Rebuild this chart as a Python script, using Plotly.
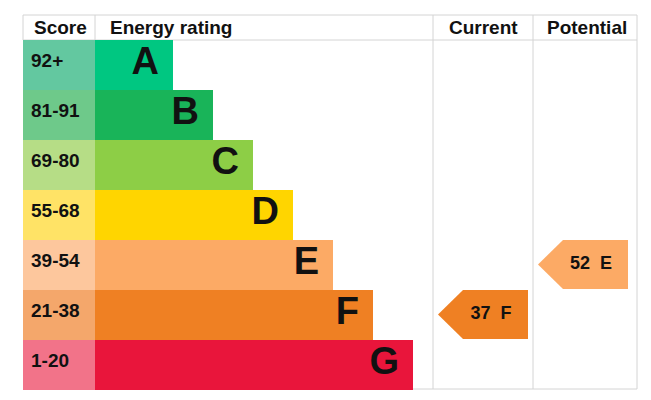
import plotly.graph_objects as go

# EPC bands, top (best) to bottom (worst)
bands = ["A", "B", "C", "D", "E", "F", "G"]
score_ranges = ["92+", "81-91", "69-80", "55-68", "39-54", "21-38", "1-20"]
band_min_score = [92, 81, 69, 55, 39, 21, 1]
bar_lengths = [78, 118, 158, 198, 238, 278, 318]
bar_colors = ["#00c781", "#19b459", "#8dce46", "#ffd500", "#fcaa65", "#ef8023", "#e9153b"]
score_colors = ["#63c8a0", "#6ec98a", "#b6dd86", "#ffe366", "#fdc79d", "#f4a76b", "#f27389"]

headers = ["Score", "Energy rating", "Current", "Potential"]
current_score = 37
potential_score = 52

FONT = "Liberation Sans, Arial, sans-serif"
GRID = "#d4d4d4"

# table geometry (pixel-like axis units)
TOP, HEAD_H, ROW_H = 15, 25, 50
LEFT, SCORE_R = 23, 95
CUR_L, POT_L, RIGHT = 433, 533, 637
BOTTOM = TOP + HEAD_H + ROW_H * len(bands) - 1

centers = [TOP + HEAD_H + ROW_H * i + ROW_H / 2 - 0.5 for i in range(len(bands))]


def band_of(score):
    for i, lo in enumerate(band_min_score):
        if score >= lo:
            return i
    return len(bands) - 1


def arrow_trace(score, col_left):
    i = band_of(score)
    cy = centers[i]
    top, bot = cy - ROW_H / 2 + 0.5, cy + ROW_H / 2 - 0.5
    tip, shoulder, right = col_left + 5, col_left + 30, col_left + 95
    return go.Scatter(
        x=[tip, shoulder, right, right, shoulder, tip],
        y=[cy, top, top, bot, bot, cy],
        mode="lines", fill="toself", fillcolor=bar_colors[i],
        line=dict(width=0, color=bar_colors[i]), hoverinfo="skip", showlegend=False,
    ), go.Scatter(
        x=[col_left + 58], y=[cy], mode="text",
        text=[f"{score}\u00a0\u00a0{bands[i]}"], textposition="middle center",
        textfont=dict(family=FONT, size=18, color="#111111", weight="bold"),
        hoverinfo="skip", showlegend=False,
    )


fig = go.Figure()

# score column cells
fig.add_trace(go.Bar(
    y=centers, x=[SCORE_R - LEFT] * len(bands), base=LEFT, orientation="h",
    width=ROW_H, marker=dict(color=score_colors, line=dict(width=0)),
    hoverinfo="skip", showlegend=False,
))
fig.add_trace(go.Scatter(
    x=[LEFT + 8] * len(bands), y=[c - 2 for c in centers], mode="text",
    text=score_ranges, textposition="middle right",
    textfont=dict(family=FONT, size=19, color="#111111", weight="bold"),
    hoverinfo="skip", showlegend=False,
))

# rating bars
fig.add_trace(go.Bar(
    y=centers, x=bar_lengths, base=SCORE_R, orientation="h",
    width=ROW_H, marker=dict(color=bar_colors, line=dict(width=0)),
    hoverinfo="skip", showlegend=False,
))
fig.add_trace(go.Scatter(
    x=[SCORE_R + L - 14 for L in bar_lengths], y=centers, mode="text",
    text=bands, textposition="middle left",
    textfont=dict(family=FONT, size=38, color="#111111", weight="bold"),
    hoverinfo="skip", showlegend=False,
))

for t in arrow_trace(current_score, CUR_L):
    fig.add_trace(t)
for t in arrow_trace(potential_score, POT_L):
    fig.add_trace(t)

# header labels
head_y = TOP + HEAD_H / 2
head_x = [LEFT + 9, SCORE_R + 13, (CUR_L + POT_L) / 2, (POT_L + RIGHT) / 2 + 2]
head_anchor = ["left", "left", "center", "center"]
for label, hx, anc in zip(headers, head_x, head_anchor):
    fig.add_annotation(x=hx, y=head_y, text=label, showarrow=False, xanchor=anc,
                       yanchor="middle", font=dict(family=FONT, size=19, color="#111111",
                                                   weight="bold"))

# table lines
line = dict(color=GRID, width=1)
for x0, y0, x1, y1 in [
    (LEFT, TOP, RIGHT, TOP),
    (LEFT, TOP + HEAD_H, RIGHT, TOP + HEAD_H),
    (LEFT, BOTTOM, RIGHT, BOTTOM),
    (LEFT, TOP, LEFT, TOP + HEAD_H),
    (SCORE_R, TOP, SCORE_R, TOP + HEAD_H),
    (CUR_L, TOP, CUR_L, BOTTOM),
    (POT_L, TOP, POT_L, BOTTOM),
    (RIGHT, TOP, RIGHT, BOTTOM),
]:
    fig.add_shape(type="line", x0=x0, y0=y0, x1=x1, y1=y1, line=line, layer="below")

fig.update_layout(
    width=651, height=400, margin=dict(l=0, r=0, t=0, b=0),
    paper_bgcolor="white", plot_bgcolor="white", barmode="overlay", bargap=0,
    xaxis=dict(range=[0, 651], visible=False, fixedrange=True),
    yaxis=dict(range=[400, 0], visible=False, fixedrange=True),
)

# drop the browser's default page margin so the chart sits at the window origin
fig.write_html("out.html", config={"displayModeBar": False},
               post_script="document.body.style.margin = '0';")
